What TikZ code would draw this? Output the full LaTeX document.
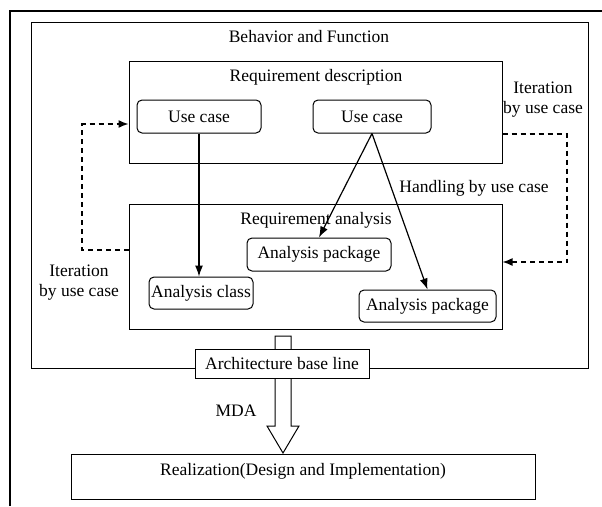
\documentclass[tikz,border=0pt]{standalone}
\usepackage{fontspec}
\setmainfont{Liberation Serif}
\usetikzlibrary{arrows.meta}
\begin{document}
\begin{tikzpicture}[x=1pt, y=-1pt,
    font=\fontsize{17.5}{20}\selectfont,
    box/.style={draw, line width=1pt, inner sep=0pt},
    ucbox/.style={draw, line width=1pt, rounded corners=5pt, inner sep=0pt, fill=white},
    flow/.style={line width=1.2pt, -{Latex[length=11pt,width=8pt]}},
    iter/.style={line width=1.4pt, dash pattern=on 5pt off 4pt, -{Latex[length=10pt,width=8pt]}}]
    \useasboundingbox (0,0) rectangle (602,506);

    % outer frame
    \draw[line width=1.8pt] (10,506) -- (10,11) -- (602,11);

    % Behavior and Function
    \node[box, minimum width=557pt, minimum height=346pt] (bf) at (309.5,195) {};
    \node (bfT) at (309,37) {Behavior and Function};

    % Requirement description
    \node[box, minimum width=373pt, minimum height=102pt] (rd) at (315.5,112) {};
    \node (rdT) at (316,77) {Requirement description};
    \node[ucbox, minimum width=124pt, minimum height=33pt] (uc1) at (199,116.5) {Use case};
    \node[ucbox, minimum width=118pt, minimum height=33pt] (uc2) at (372,116.5) {Use case};

    % Requirement analysis
    \node[box, minimum width=373pt, minimum height=125pt] (ra) at (315.5,266.5) {};
    \node (raT) at (316,220) {Requirement analysis};
    \node[ucbox, minimum width=144pt, minimum height=33pt] (ap1) at (319,254.5) {Analysis package};
    \node[ucbox, minimum width=104pt, minimum height=32pt] (ac) at (201,293) {Analysis class};
    \node[ucbox, minimum width=137pt, minimum height=32pt] (ap2) at (427.5,306) {Analysis package};

    % use case -> analysis
    \draw[flow] (uc1.south) -- (uc1.south |- ac.north);
    \draw[flow] (uc2.south) -- (ap1.north);
    \draw[flow] (uc2.south) -- (ap2.north);
    \node (hdl) at (474,188) {Handling by use case};

    % iteration loops
    \coordinate (lA) at (82,250);
    \coordinate (lB) at (82,124);
    \draw[iter] (lA -| ra.west) -- (lA) -- (lB) -- (lB -| rd.west);
    \node[align=center] (itL) at (79,283) {Iteration\\by use case};
    \coordinate (rA) at (567,134);
    \coordinate (rB) at (567,262);
    \draw[iter] (rA -| rd.east) -- (rA) -- (rB) -- (rB -| ra.east);
    \node[align=center] (itR) at (543,100) {Iteration\\by use case};

    % MDA arrow
    \draw[line width=1pt, fill=white] (275,336) -- (275,426) -- (267,426) -- (283,453)
        -- (299,426) -- (291,426) -- (291,336) -- cycle;
    \node[box, fill=white, minimum width=174pt, minimum height=29pt] (arch) at (282,363.5) {Architecture base line};
    \node (mda) at (236,411) {MDA};

    % Realization
    \node[box, minimum width=464pt, text height=21.6pt, text depth=23.4pt] (real) at (303,476.5) {Realization(Design and Implementation)};
\end{tikzpicture}
\end{document}
